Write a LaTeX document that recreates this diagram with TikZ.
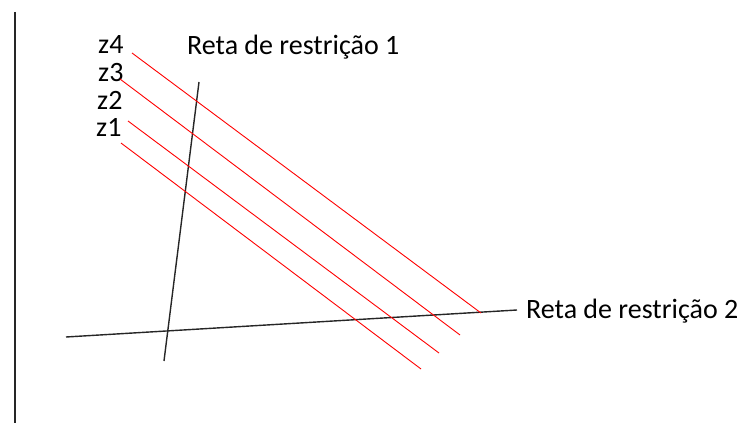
\documentclass[tikz,border=0pt]{standalone}
\usepackage{fontspec}
\setmainfont{Carlito}
\begin{document}
\begin{tikzpicture}[x=1pt,y=-1pt,
  lbl/.style={anchor=base west,inner sep=0pt,font=\fontsize{28}{30}\selectfont},
  axis/.style={draw=black!85,line width=1.4pt},
  zline/.style={draw=red,line width=0.9pt}]
\useasboundingbox (0,0) rectangle (744,425);
% left axis
\coordinate (axT) at (15,12);
\coordinate (axB) at (15,423);
\draw[axis] (axT) -- (axB);
% constraint lines
\coordinate (r1a) at (199,82);
\coordinate (r1b) at (164,361);
\coordinate (r2a) at (66,337);
\coordinate (r2b) at (517,310);
\draw[axis] (r1a) -- (r1b);
\draw[axis] (r2a) -- (r2b);
% labels
\node[lbl] (l1) at (187,55) {Reta de restrição 1};
\node[lbl] (l2) at (526,318) {Reta de restrição 2};
\node[lbl] (z4) at (98,54) {z4};
\node[lbl] (z3) at (98,82) {z3};
\node[lbl] (z2) at (97,110) {z2};
\node[lbl] (z1) at (96,137) {z1};
% objective lines
\coordinate (a4) at (132,53);  \coordinate (b4) at (481,313);
\coordinate (a3) at (120,79);  \coordinate (b3) at (460,335);
\coordinate (a2) at (128,121); \coordinate (b2) at (439,353);
\coordinate (a1) at (121,143); \coordinate (b1) at (421,369);
\draw[zline] (a4) -- (b4);
\draw[zline] (a3) -- (b3);
\draw[zline] (a2) -- (b2);
\draw[zline] (a1) -- (b1);
\end{tikzpicture}
\end{document}
